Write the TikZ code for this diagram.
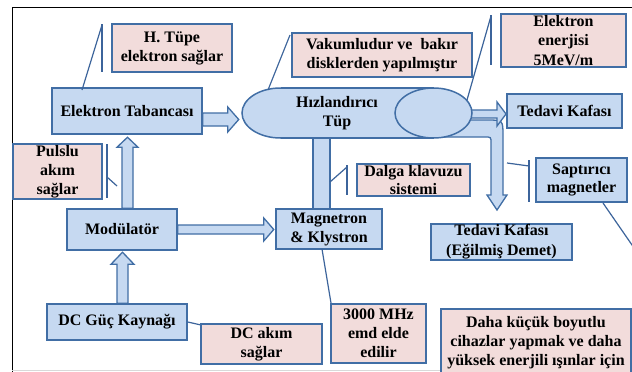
\documentclass[tikz,border=0pt]{standalone}
\usepackage{fontspec}
\setmainfont{Liberation Serif}
\usetikzlibrary{calc}
\definecolor{bfill}{RGB}{198,217,241}
\definecolor{bline}{RGB}{65,110,165}
\definecolor{pfill}{RGB}{242,220,219}
\definecolor{lline}{RGB}{60,100,155}
\tikzset{
  base/.style={draw=bline, line width=1.5pt, inner sep=0pt, align=center,
    font=\fontsize{16}{19}\selectfont\bfseries, text=black},
  bluebox/.style={base, fill=bfill},
  pinkbox/.style={base, fill=pfill},
  blockarr/.style={fill=bfill, draw=bline, line width=1.3pt, line join=miter},
  leader/.style={draw=lline, line width=1.2pt},
  tubepart/.style={fill=bfill, draw=bline, line width=1.5pt},
}
\begin{document}
\begin{tikzpicture}[x=1pt,y=-1pt]
\useasboundingbox (0,0) rectangle (632,372);
\clip (0,0) rectangle (632,372);
\fill[white] (0,0) rectangle (632,372);
% frame
\draw[black, line width=1pt] (12,372) -- (12,7) -- (632,7);
\draw[black!15, line width=1pt] (12,370) -- (632,370);

% main boxes (positions)
\node[bluebox, minimum width=150pt, minimum height=46pt] (etab) at (127,111) {Elektron Tabancası};
\node[bluebox, minimum width=115pt, minimum height=34pt] (tedavi1) at (564.5,111) {Tedavi Kafası};
\node[bluebox, minimum width=110pt, minimum height=41pt] (modul) at (122,229.5) {Modülatör};
\node[bluebox, minimum width=106pt, minimum height=40pt] (magnet) at (329,229) {Magnetron\\\& Klystron};
\node[bluebox, minimum width=141pt, minimum height=36pt, font=\fontsize{16}{20}\selectfont\bfseries] (tedavi2) at (501.5,242) {Tedavi Kafası\\(Eğilmiş Demet)};
\node[bluebox, minimum width=140pt, minimum height=36pt] (dcguc) at (117,322) {DC Güç Kaynağı};
\node[bluebox, minimum width=91pt, minimum height=44pt, font=\fontsize{16}{18.5}\selectfont\bfseries] (sapt) at (581.5,180) {Saptırıcı\\magnetler};

% tube geometry
\coordinate (tl) at (280.5,113);
\coordinate (tr) at (433.5,113);

% block arrows
\filldraw[blockarr] ($(etab.east)+(0,2)$) -- ++(25,0) -- ++(0,-6) -- ++(11,12.5) -- ++(-11,12.5) -- ++(0,-6) -- ++(-25,0) -- cycle;
\filldraw[blockarr] (modul.north) -- ++(0,-61) -- ++(-5,0) -- ++(10.5,-10) -- ++(10.5,10) -- ++(-5,0) -- ++(0,61) -- cycle;
\filldraw[blockarr] (dcguc.north) -- ++(0,-39) -- ++(-6,0) -- ++(11.5,-12) -- ++(11.5,12) -- ++(-6,0) -- ++(0,39) -- cycle;
\filldraw[blockarr] ($(modul.east)+(0,-4.5)$) -- ++(86,0) -- ++(0,-7) -- ++(10,11.5) -- ++(-10,11.5) -- ++(0,-7) -- ++(-86,0) -- cycle;
% waveguide band
\filldraw[blockarr] ($(magnet.north)+(-16,0)$) rectangle ++(17,-79);
% bent arrow
\filldraw[blockarr] (462,120) -- (487,120) .. controls (503,120) .. (503,136) -- (503,195) -- (507,195) -- (497,210) -- (487,195) -- (491,195) -- (491,143) .. controls (491,137) .. (485,137) -- (440,137) -- cycle;
% straight arrow to tedavi
\filldraw[blockarr] ($(tr)+(31.5,-3)$) -- ++(32,0) -- ++(0,-8) -- ++(9,12) -- ++(-9,12) -- ++(0,-8) -- ++(-32,0) -- cycle;

% tube
\filldraw[tubepart] (tl) ellipse [x radius=38.5pt, y radius=25pt];
\fill[bfill] (280.5,88) rectangle (433.5,138);
\draw[bline, line width=1.5pt] (280.5,88) -- (433.5,88) (280.5,138) -- (433.5,138);
\filldraw[tubepart] (tr) ellipse [x radius=38.5pt, y radius=25pt];
\node[base, draw=none, fill=none] (tube) at (337,113) {Hızlandırıcı\\Tüp};

% callout leaders
\draw[leader] (102,24) -- (102,72);
\draw[leader] (102,25) -- (82,90);
\draw[leader] (268,90) -- (290,35);
\draw[leader] (491,15) -- (491,65);
\draw[leader] (491,16) -- (467,100);
\draw[leader] (107,144) -- (107,198);
\draw[leader] (107,177) -- (117,186);
\draw[leader] (347,165) -- (347,195);
\draw[leader] (347,167) -- (330,182);
\draw[leader] (529,160) -- (529,202);
\draw[leader] (529,166) -- (507,163);
\coordinate (offR) at (641,258);
\draw[leader] (603,203) -- (offR);
\draw[leader] (322,249) -- (331,303);
\draw[leader] (dcguc.east) -- (201,325);

% callout boxes
\node[pinkbox, minimum width=120pt, minimum height=48pt] (htupe) at (172,48) {H. Tüpe\\elektron sağlar};
\node[pinkbox, minimum width=180pt, minimum height=44pt] (vakum) at (382,55) {Vakumludur ve~ bakır\\disklerden yapılmıştır};
\node[pinkbox, minimum width=125pt, minimum height=53pt, font=\fontsize{16}{19.5}\selectfont\bfseries] (enerji) at (563.5,40.5) {Elektron\\enerjisi\\5MeV/m};
\node[pinkbox, minimum width=89pt, minimum height=55pt] (pulslu) at (57.5,171.5) {Pulslu\\akım\\sağlar};
\node[pinkbox, minimum width=113pt, minimum height=32pt, font=\fontsize{16}{18}\selectfont\bfseries] (dalga) at (413.5,180) {Dalga klavuzu\\sistemi};
\node[pinkbox, minimum width=121pt, minimum height=40pt] (dcakim) at (261.5,344) {DC akım\\sağlar};
\node[pinkbox, minimum width=95pt, minimum height=59pt] (mhz) at (378.5,333.5) {3000 MHz\\emd elde\\edilir};
\node[pinkbox, minimum width=190pt, minimum height=67pt] (daha) at (536,342.5) {Daha küçük boyutlu\\cihazlar yapmak ve daha\\yüksek enerjili ışınlar için};
\end{tikzpicture}
\end{document}
